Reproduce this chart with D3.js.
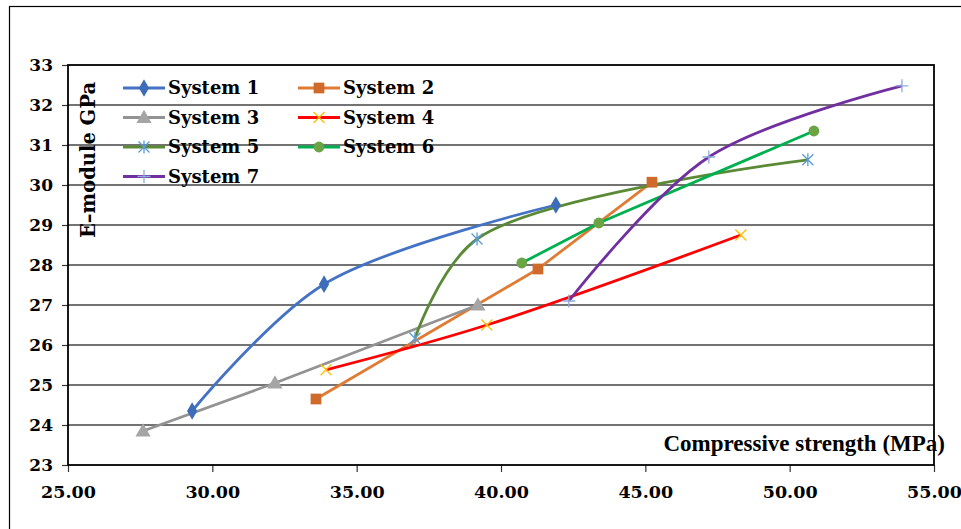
<!DOCTYPE html>
<html>
<head>
<meta charset="utf-8">
<script src="https://cdn.jsdelivr.net/npm/d3@7"></script>
<style>
  html, body { margin: 0; padding: 0; background: #fff; }
  svg { display: block; }
</style>
</head>
<body>
<svg id="chart" width="961" height="529"></svg>
<script>
// Compressive strength (MPa) vs. E-module (GPa) for seven mix systems
const seriesNames = ["System 1", "System 2", "System 3", "System 4", "System 5", "System 6", "System 7"];
const system1 = [[29.30, 24.35], [33.87, 27.52], [41.90, 29.50]];
const system2 = [[33.59, 24.65], [41.28, 27.90], [45.23, 30.07]];
const system3 = [[27.60, 23.85], [32.17, 25.05], [39.20, 27.00]];
const system4 = [[33.94, 25.38], [39.51, 26.50], [48.31, 28.75]];
const system5 = [[37.02, 26.17], [39.17, 28.65], [50.63, 30.63]];
const system6 = [[40.72, 28.05], [43.39, 29.05], [50.84, 31.35]];
const system7 = [[42.35, 27.10], [47.20, 30.70], [53.89, 32.48]];
const xTicks = [25, 30, 35, 40, 45, 50, 55];
const yTicks = [23, 24, 25, 26, 27, 28, 29, 30, 31, 32, 33];
const xTitle = "Compressive strength (MPa)";
const yTitle = "E\u2013module GPa";

const seriesData = [system1, system2, system3, system4, system5, system6, system7];
const styles = [
  { line: "#4472C4", marker: "diamond",  mFill: "#3D6CB9", smooth: true },
  { line: "#E07B34", marker: "square",   mFill: "#D06A2A", smooth: false },
  { line: "#939393", marker: "triangle", mFill: "#A5A5A5", smooth: false },
  { line: "#FF0000", marker: "x",        mStroke: "#FFC000", smooth: true },
  { line: "#5A8A35", marker: "asterisk", mStroke: "#5B9BD5", smooth: true },
  { line: "#00B050", marker: "circle",   mFill: "#6AA444", smooth: false },
  { line: "#7030A0", marker: "plus",     mStroke: "#8FAADC", smooth: true }
];

const svg = d3.select("#chart");
const W = 961, H = 529;
const plot = { left: 68, right: 934, top: 65, bottom: 465 };

const x = d3.scaleLinear().domain([25, 55]).range([plot.left, plot.right]);
const y = d3.scaleLinear().domain([23, 33]).range([plot.bottom, plot.top]);

const serif = "'DejaVu Serif', serif";
const timesLike = "'Liberation Serif', 'Times New Roman', serif";

// outer frame
svg.append("rect")
  .attr("x", 9.5).attr("y", 6.5)
  .attr("width", W + 10).attr("height", H + 10)
  .attr("fill", "none").attr("stroke", "#000").attr("stroke-width", 1.2);

// horizontal gridlines
svg.append("g")
  .selectAll("line")
  .data(yTicks.filter(t => t !== 23 && t !== 33))
  .join("line")
  .attr("x1", plot.left).attr("x2", plot.right)
  .attr("y1", d => y(d)).attr("y2", d => y(d))
  .attr("stroke", "#444").attr("stroke-width", 1.4);

// series lines (smoothed ones use a centripetal Catmull-Rom spline)
const lineLinear = d3.line().x(d => x(d[0])).y(d => y(d[1]));
const lineSmooth = d3.line().x(d => x(d[0])).y(d => y(d[1])).curve(d3.curveCatmullRom.alpha(0.5));

const gSeries = svg.append("g");
seriesData.forEach((data, i) => {
  const st = styles[i];
  gSeries.append("path")
    .datum(data)
    .attr("d", st.smooth ? lineSmooth : lineLinear)
    .attr("fill", "none")
    .attr("stroke", st.line)
    .attr("stroke-width", 2.8)
    .attr("stroke-linejoin", "round");
});

// marker drawing
function drawMarker(g, st, cx, cy) {
  const s = 5.5;
  switch (st.marker) {
    case "diamond":
      g.append("path").attr("d", d3.symbol(d3.symbolDiamond, 90)())
        .attr("transform", `translate(${cx},${cy})`).attr("fill", st.mFill);
      break;
    case "square":
      g.append("path").attr("d", d3.symbol(d3.symbolSquare, 115)())
        .attr("transform", `translate(${cx},${cy})`).attr("fill", st.mFill);
      break;
    case "triangle":
      g.append("path").attr("d", d3.symbol(d3.symbolTriangle, 100)())
        .attr("transform", `translate(${cx},${cy + 1})`).attr("fill", st.mFill);
      break;
    case "circle":
      g.append("circle").attr("cx", cx).attr("cy", cy).attr("r", 5.4).attr("fill", st.mFill);
      break;
    case "x":
      g.append("path")
        .attr("d", `M${cx - s},${cy - s}L${cx + s},${cy + s}M${cx - s},${cy + s}L${cx + s},${cy - s}`)
        .attr("stroke", st.mStroke).attr("stroke-width", 1.3).attr("fill", "none");
      break;
    case "asterisk":
      g.append("path")
        .attr("d", `M${cx - s},${cy - s}L${cx + s},${cy + s}M${cx - s},${cy + s}L${cx + s},${cy - s}M${cx},${cy - s - 1}L${cx},${cy + s + 1}`)
        .attr("stroke", st.mStroke).attr("stroke-width", 1.3).attr("fill", "none");
      break;
    case "plus":
      g.append("path")
        .attr("d", `M${cx - s - 1},${cy}L${cx + s + 1},${cy}M${cx},${cy - s - 1}L${cx},${cy + s + 1}`)
        .attr("stroke", st.mStroke).attr("stroke-width", 1.3).attr("fill", "none");
      break;
  }
}

const gMarkers = svg.append("g");
seriesData.forEach((data, i) => {
  data.forEach(d => drawMarker(gMarkers, styles[i], x(d[0]), y(d[1])));
});

// legend (two columns)
const legendCols = [123, 298];
const legendRows = [88, 117.5, 147, 176.5];
const gLegend = svg.append("g");
seriesNames.forEach((name, i) => {
  const lx = legendCols[i % 2];
  const ly = legendRows[Math.floor(i / 2)];
  const st = styles[i];
  gLegend.append("line")
    .attr("x1", lx).attr("x2", lx + 42).attr("y1", ly).attr("y2", ly)
    .attr("stroke", st.line).attr("stroke-width", 2.8);
  drawMarker(gLegend, st, lx + 21, ly);
  gLegend.append("text")
    .attr("x", lx + 45).attr("y", ly)
    .attr("dy", "0.36em")
    .attr("font-family", serif).attr("font-weight", "bold").attr("font-size", 18)
    .attr("fill", "#000")
    .text(name);
});

// axes
const xAxis = d3.axisBottom(x).tickValues(xTicks).tickSize(7).tickFormat(d3.format(".2f"));
const yAxis = d3.axisLeft(y).tickValues(yTicks).tickSize(6).tickFormat(d3.format("d"));

const gx = svg.append("g").attr("transform", `translate(0,${plot.bottom})`).call(xAxis);
gx.select(".domain").remove();
gx.selectAll(".tick line").attr("stroke", "#333").attr("stroke-width", 1.2);
gx.selectAll(".tick text")
  .attr("y", 21).attr("dy", "0.71em")
  .attr("font-family", serif).attr("font-weight", "bold").attr("font-size", 17.5)
  .attr("fill", "#000");

const gy = svg.append("g").attr("transform", `translate(${plot.left},0)`).call(yAxis);
gy.select(".domain").remove();
gy.selectAll(".tick line").attr("stroke", "#333").attr("stroke-width", 1.2);
gy.selectAll(".tick text")
  .attr("x", -15).attr("dy", "0.32em")
  .attr("font-family", serif).attr("font-weight", "bold").attr("font-size", 17)
  .attr("fill", "#000");

// x-axis title inside the plot area
svg.append("text")
  .attr("x", 945).attr("y", 451)
  .attr("text-anchor", "end")
  .attr("font-family", timesLike).attr("font-weight", "bold").attr("font-size", 23)
  .attr("fill", "#000")
  .text(xTitle);

// plot-area border
svg.append("rect")
  .attr("x", plot.left).attr("y", plot.top)
  .attr("width", plot.right - plot.left).attr("height", plot.bottom - plot.top)
  .attr("fill", "none").attr("stroke", "#000").attr("stroke-width", 1.8);

// y-axis title inside the plot area
svg.append("text")
  .attr("transform", `translate(95,160) rotate(-90)`)
  .attr("text-anchor", "middle")
  .attr("font-family", serif).attr("font-weight", "bold").attr("font-size", 19.5)
  .attr("fill", "#000")
  .text(yTitle);
</script>
</body>
</html>
